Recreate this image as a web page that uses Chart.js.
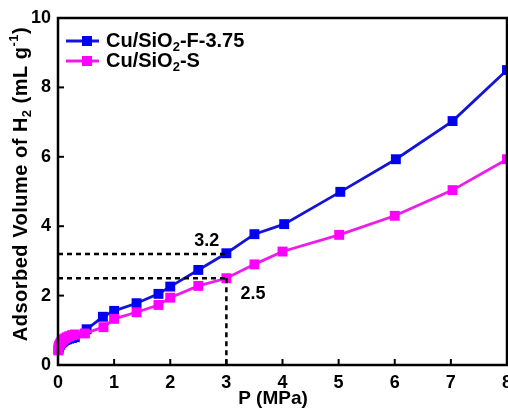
<!DOCTYPE html>
<html>
<head>
<meta charset="utf-8">
<script src="https://cdn.jsdelivr.net/npm/chart.js@4.4.1/dist/chart.umd.min.js"></script>
<style>
  html, body { margin: 0; padding: 0; background: #fff; overflow: hidden; }
  #wrap { width: 508px; height: 409px; position: relative; }
</style>
</head>
<body>
<div id="wrap"><canvas id="c" width="508" height="409"></canvas></div>
<script>
// ---- Data ----
const pressureF = [0.01, 0.02, 0.04, 0.06, 0.08, 0.1, 0.13, 0.16, 0.2, 0.25, 0.3, 0.51, 0.8, 1.0, 1.4, 1.79, 2.0, 2.5, 3.0, 3.5, 4.03, 5.03, 6.02, 7.03, 8.0];
const volumeF   = [0.45, 0.52, 0.58, 0.63, 0.66, 0.69, 0.72, 0.74, 0.76, 0.78, 0.8, 1.03, 1.39, 1.56, 1.78, 2.05, 2.26, 2.74, 3.22, 3.77, 4.06, 4.99, 5.93, 7.03, 8.5];
const pressureS = [0.005, 0.01, 0.02, 0.04, 0.06, 0.08, 0.1, 0.13, 0.16, 0.2, 0.25, 0.3, 0.48, 0.81, 1.0, 1.4, 1.79, 2.0, 2.5, 3.0, 3.5, 4.0, 5.01, 6.0, 7.03, 8.0];
const volumeS   = [0.42, 0.5, 0.56, 0.62, 0.67, 0.71, 0.74, 0.77, 0.8, 0.83, 0.86, 0.88, 0.91, 1.09, 1.33, 1.52, 1.73, 1.94, 2.28, 2.5, 2.9, 3.27, 3.75, 4.3, 5.04, 5.93];
const seriesNames = ['Cu/SiO₂-F-3.75', 'Cu/SiO₂-S'];
const xTickValues = [0, 1, 2, 3, 4, 5, 6, 7, 8];
const yTickValues = [0, 2, 4, 6, 8, 10];
const markPressure = 3;
const markVolumes = [3.2, 2.5];
const markLabels = ['3.2', '2.5'];

const FONT = '"Liberation Sans", Arial, Helvetica, sans-serif';
const BLUE_LINE = '#1414d6', BLUE_PT = '#0000f2';
const MAG_LINE = '#ec1cec', MAG_PT = '#ff00ff';

function pts(xs, ys) { return xs.map((x, i) => ({ x: x, y: ys[i] })); }

function richWidth(ctx, parts, size) {
  let w = 0;
  for (const p of parts) {
    const s = (p.sub || p.sup) ? Math.round(size * 0.65) : size;
    ctx.font = 'bold ' + s + 'px ' + FONT;
    w += ctx.measureText(p.t).width;
  }
  return w;
}
function drawRich(ctx, parts, x, y, size) {
  let cx = x;
  ctx.textAlign = 'left';
  ctx.textBaseline = 'middle';
  for (const p of parts) {
    const s = (p.sub || p.sup) ? Math.round(size * 0.65) : size;
    ctx.font = 'bold ' + s + 'px ' + FONT;
    let dy = 0;
    if (p.sub) dy = size * 0.3;
    if (p.sup) dy = -size * 0.32;
    ctx.fillText(p.t, cx, y + dy);
    cx += ctx.measureText(p.t).width;
  }
  return cx - x;
}

const decor = {
  id: 'decor',
  afterDraw(chart) {
    const ctx = chart.ctx;
    const a = chart.chartArea;
    const xs = chart.scales.x, ys = chart.scales.y;
    ctx.save();
    ctx.fillStyle = '#000';
    ctx.strokeStyle = '#000';

    // dashed guide lines
    ctx.lineWidth = 2.5;
    ctx.setLineDash([5, 4]);
    const px3 = xs.getPixelForValue(markPressure);
    markVolumes.forEach(v => {
      const py = ys.getPixelForValue(v);
      ctx.beginPath(); ctx.moveTo(a.left, py); ctx.lineTo(px3, py); ctx.stroke();
    });
    const pyLow = ys.getPixelForValue(Math.min.apply(null, markVolumes));
    ctx.beginPath(); ctx.moveTo(px3, pyLow); ctx.lineTo(px3, a.bottom); ctx.stroke();
    ctx.setLineDash([]);

    // guide labels
    ctx.font = 'bold 18px ' + FONT;
    ctx.textBaseline = 'alphabetic';
    ctx.textAlign = 'right';
    ctx.fillText(markLabels[0], px3 - 7, ys.getPixelForValue(markVolumes[0]) - 8);
    ctx.textAlign = 'left';
    ctx.fillText(markLabels[1], px3 + 14, ys.getPixelForValue(markVolumes[1]) + 21);

    // frame
    ctx.lineWidth = 2.5;
    ctx.strokeRect(a.left, a.top, a.right - a.left, a.bottom - a.top);

    // inward tick marks
    ctx.lineWidth = 2;
    xTickValues.forEach(v => {
      const px = xs.getPixelForValue(v);
      ctx.beginPath(); ctx.moveTo(px, a.bottom); ctx.lineTo(px, a.bottom - 6); ctx.stroke();
    });
    yTickValues.forEach(v => {
      const py = ys.getPixelForValue(v);
      ctx.beginPath(); ctx.moveTo(a.left, py); ctx.lineTo(a.left + 6, py); ctx.stroke();
    });

    // legend
    const leg = [
      { line: BLUE_LINE, pt: BLUE_PT, parts: [{ t: 'Cu/SiO' }, { t: '2', sub: true }, { t: '-F-3.75' }], y: 41 },
      { line: MAG_LINE, pt: MAG_PT, parts: [{ t: 'Cu/SiO' }, { t: '2', sub: true }, { t: '-S' }], y: 61 }
    ];
    leg.forEach(l => {
      ctx.strokeStyle = l.line; ctx.lineWidth = 2.8;
      ctx.beginPath(); ctx.moveTo(66, l.y); ctx.lineTo(99, l.y); ctx.stroke();
      ctx.fillStyle = l.pt;
      ctx.fillRect(82, l.y - 5, 10, 10);
      ctx.fillStyle = '#000';
      drawRich(ctx, l.parts, 106, l.y, 20);
    });

    // y axis title
    const yParts = [{ t: 'Adsorbed Volume of H' }, { t: '2', sub: true }, { t: ' (mL g' }, { t: '-1', sup: true }, { t: ')' }];
    ctx.save();
    ctx.letterSpacing = '0.5px';
    ctx.translate(21, 184);
    ctx.rotate(-Math.PI / 2);
    const w = richWidth(ctx, yParts, 20);
    drawRich(ctx, yParts, -w / 2, 0, 20);
    ctx.restore();

    // x axis title
    ctx.font = 'bold 19px ' + FONT;
    ctx.textAlign = 'center';
    ctx.textBaseline = 'alphabetic';
    ctx.fillText('P (MPa)', 273, 404);

    ctx.restore();
  }
};

new Chart(document.getElementById('c'), {
  type: 'line',
  data: {
    datasets: [
      {
        label: seriesNames[0], data: pts(pressureF, volumeF),
        borderColor: BLUE_LINE, backgroundColor: BLUE_PT, pointBackgroundColor: BLUE_PT,
        pointBorderColor: BLUE_PT, pointStyle: 'rect', pointRadius: 7, pointBorderWidth: 0,
        borderWidth: 2.8, tension: 0, clip: false, order: 1
      },
      {
        label: seriesNames[1], data: pts(pressureS, volumeS),
        borderColor: MAG_LINE, backgroundColor: MAG_PT, pointBackgroundColor: MAG_PT,
        pointBorderColor: MAG_PT, pointStyle: 'rect', pointRadius: 7, pointBorderWidth: 0,
        borderWidth: 2.8, tension: 0, clip: false, order: 0
      }
    ]
  },
  options: {
    responsive: false,
    animation: false,
    devicePixelRatio: 1,
    layout: { autoPadding: false, padding: { left: 0, top: 18, right: 1, bottom: 0 } },
    plugins: { legend: { display: false }, tooltip: { enabled: false } },
    scales: {
      x: {
        type: 'linear', min: 0, max: 8,
        grid: { display: false, drawTicks: false },
        border: { display: false },
        ticks: {
          stepSize: 1, color: '#000', padding: 7,
          font: { family: FONT, size: 18, weight: 'bold' },
          maxRotation: 0, autoSkip: false
        },
        afterFit(s) { s.height = 44; s.paddingLeft = 0; s.paddingRight = 0; }
      },
      y: {
        type: 'linear', min: 0, max: 10,
        grid: { display: false, drawTicks: false },
        border: { display: false },
        ticks: {
          stepSize: 2, color: '#000', padding: 7,
          font: { family: FONT, size: 18, weight: 'bold' }
        },
        afterFit(s) { s.width = 58; s.paddingTop = 0; s.paddingBottom = 0; }
      }
    }
  },
  plugins: [decor]
});
</script>
</body>
</html>
